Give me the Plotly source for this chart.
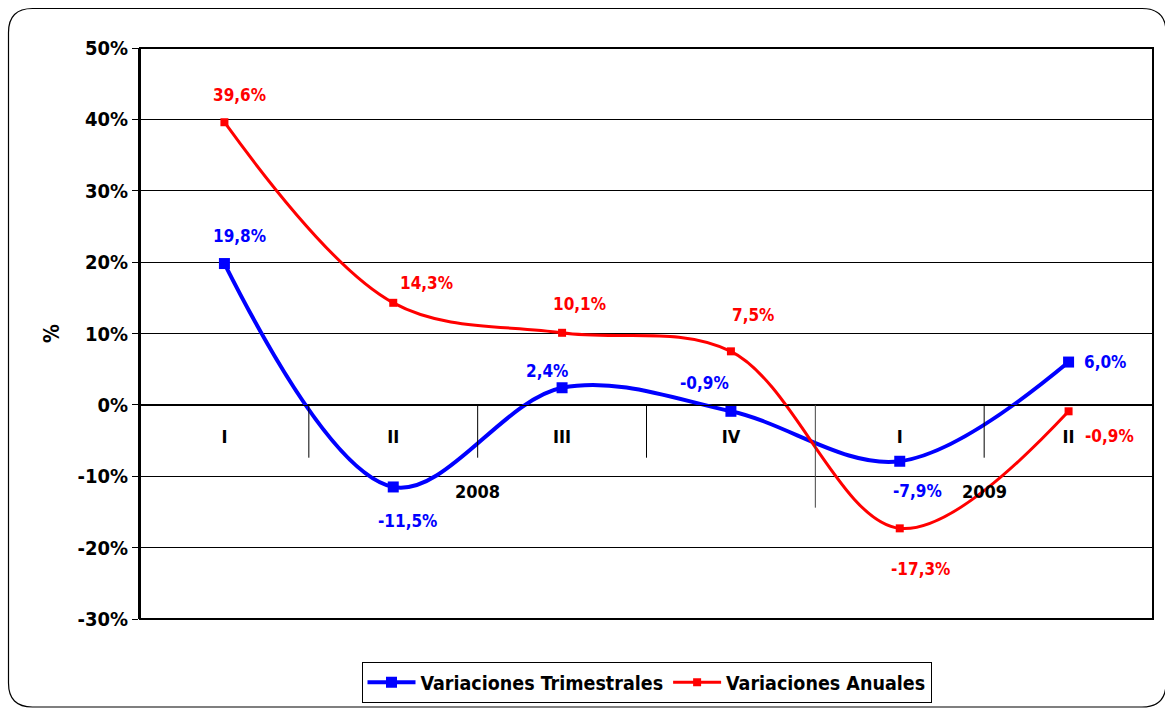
import plotly.graph_objects as go

# ---- data ----
quarters = ["I", "II", "III", "IV", "I", "II"]
years = ["2008", "2009"]
trimestrales = [19.8, -11.5, 2.4, -0.9, -7.9, 6.0]
anuales = [39.6, 14.3, 10.1, 7.5, -17.3, -0.9]
y_ticks = [-30, -20, -10, 0, 10, 20, 30, 40, 50]

# ---- styling / geometry ----
W, H = 1165, 708
L, R, T, B = 140, 1153, 48, 619
FONT = "DejaVu Sans Condensed, DejaVu Sans, sans-serif"
BLUE = "#0000FF"
RED = "#FF0000"

x_idx = list(range(len(quarters)))

def px(xp):
    return (xp - L) / (R - L)

def py(yp):
    return (B - yp) / (B - T)

def fmt(v):
    return f"{v:.1f}".replace(".", ",") + "%"

fig = go.Figure()
fig.add_trace(go.Scatter(
    x=x_idx, y=trimestrales, mode="lines+markers", name="Variaciones Trimestrales",
    line=dict(color=BLUE, width=4, shape="spline", smoothing=1.0),
    marker=dict(symbol="square", size=11, color=BLUE),
))
fig.add_trace(go.Scatter(
    x=x_idx, y=anuales, mode="lines+markers", name="Variaciones Anuales",
    line=dict(color=RED, width=3, shape="spline", smoothing=1.0),
    marker=dict(symbol="square", size=8, color=RED),
))

# label offsets (pixels: dx right, dy down)
blue_off = [(15, -28), (14, 34), (-15, -17), (-26, -28), (18, 30), (36, 0)]
red_off = [(15, -27), (33, -20), (17, -29), (22, -36), (21, 41), (41, 25)]

annotations = []
for vals, offs, col in ((trimestrales, blue_off, BLUE), (anuales, red_off, RED)):
    for i, (v, (dx, dy)) in enumerate(zip(vals, offs)):
        annotations.append(dict(
            x=i, y=v, xref="x", yref="y", text=fmt(v), showarrow=False,
            xshift=dx, yshift=-dy,
            font=dict(family=FONT, size=17, color=col, weight="bold"),
        ))

# year labels
for xpos, yr in zip([1.5, 4.5], years):
    annotations.append(dict(
        x=xpos, y=-12.2, xref="x", yref="y", text=yr, showarrow=False,
        font=dict(family=FONT, size=18, color="black", weight="bold"),
    ))

shapes = []
# category divider lines
for b in [0.5, 1.5, 2.5, 4.5]:
    shapes.append(dict(type="line", xref="x", yref="y", x0=b, x1=b, y0=0, y1=-7.4,
                       line=dict(color="black", width=1)))
shapes.append(dict(type="line", xref="x", yref="y", x0=3.5, x1=3.5, y0=0, y1=-14.4,
                   line=dict(color="#444444", width=1)))
# plot border
shapes.append(dict(type="rect", xref="paper", yref="paper", x0=0, x1=1, y0=0, y1=1,
                   line=dict(color="black", width=2), layer="above"))
# outer rounded frame
x0p, x1p, y0p, y1p, r = 8.5, 1166, 8.5, 707, 24
pts = [
    (x0p + r, y0p), (x1p - r, y0p), (x1p, y0p), (x1p, y0p + r), (x1p, y1p - r), (x1p, y1p),
    (x1p - r, y1p), (x0p + r, y1p), (x0p, y1p), (x0p, y1p - r), (x0p, y0p + r), (x0p, y0p),
]
pp = [(px(a), py(b)) for a, b in pts]
path = (f"M {pp[0][0]},{pp[0][1]} L {pp[1][0]},{pp[1][1]} Q {pp[2][0]},{pp[2][1]} {pp[3][0]},{pp[3][1]} "
        f"L {pp[4][0]},{pp[4][1]} Q {pp[5][0]},{pp[5][1]} {pp[6][0]},{pp[6][1]} "
        f"L {pp[7][0]},{pp[7][1]} Q {pp[8][0]},{pp[8][1]} {pp[9][0]},{pp[9][1]} "
        f"L {pp[10][0]},{pp[10][1]} Q {pp[11][0]},{pp[11][1]} {pp[0][0]},{pp[0][1]} Z")
shapes.append(dict(type="path", xref="paper", yref="paper", path=path,
                   line=dict(color="black", width=1.2)))

fig.update_layout(
    width=W, height=H,
    margin=dict(l=L, r=W - R, t=T, b=H - B, autoexpand=False),
    paper_bgcolor="white", plot_bgcolor="white",
    font=dict(family=FONT, color="black"),
    showlegend=True,
    hovermode=False,
    legend=dict(
        orientation="h", x=0.5, xanchor="center", y=py(662), yanchor="top",
        bordercolor="black", borderwidth=1,
        font=dict(family=FONT, size=19.5, color="black", weight="bold"),
        itemwidth=48, tracegroupgap=0,
    ),
    xaxis=dict(
        range=[-0.5, 5.5], tickvals=x_idx, ticktext=quarters,
        anchor="free", position=30 / 80, showline=True, linecolor="black", linewidth=1,
        showgrid=False, zeroline=False, ticks="", ticklabelstandoff=16,
        tickfont=dict(family=FONT, size=18, color="black", weight="bold"),
        fixedrange=True,
    ),
    yaxis=dict(
        range=[-30, 50], tickvals=y_ticks, ticktext=[f"{v}%" for v in y_ticks],
        showgrid=True, gridcolor="black", gridwidth=1, zeroline=False,
        showline=True, linecolor="black", linewidth=2,
        ticks="outside", ticklen=6, tickcolor="black",
        tickfont=dict(family=FONT, size=20, color="black", weight="bold"),
        title=dict(text="%", standoff=12,
                   font=dict(family=FONT, size=21, color="black", weight="bold")),
        fixedrange=True,
    ),
    annotations=annotations, shapes=shapes,
)

fig.write_html(
    "out.html",
    config={"displayModeBar": False, "staticPlot": True},
    post_script="document.body.style.margin='0';document.body.style.overflow='hidden';",
)
